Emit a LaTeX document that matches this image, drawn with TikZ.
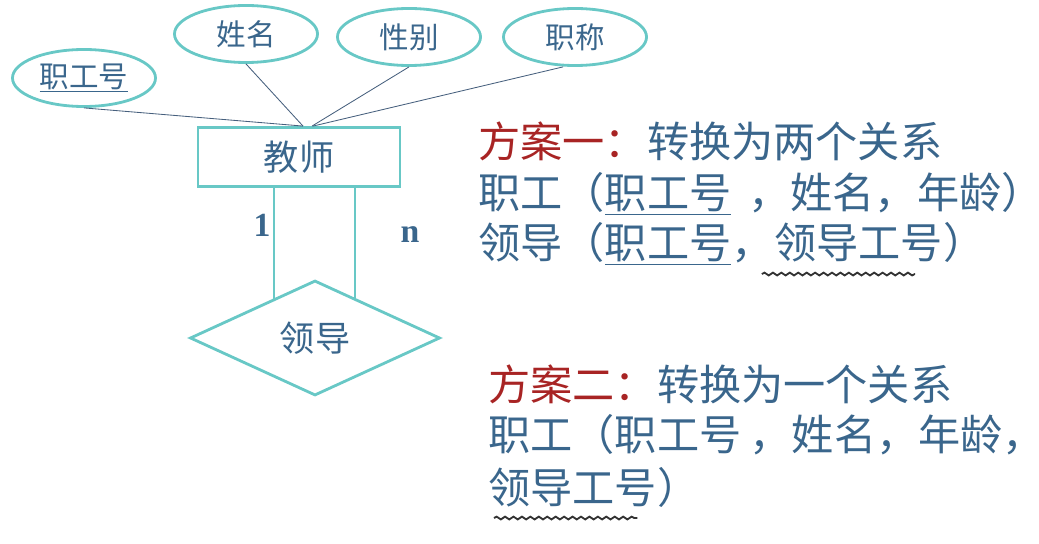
\documentclass[tikz,border=0pt]{standalone}
\usepackage{fontspec}
\setmainfont{Noto Sans CJK SC}
\newfontfamily\numfont{Liberation Serif}
\usetikzlibrary{shapes.geometric}
\usetikzlibrary{decorations.pathmorphing}
\usetikzlibrary{positioning}
\definecolor{tealline}{RGB}{104,200,198}
\definecolor{textblue}{RGB}{58,102,140}
\definecolor{darkred}{RGB}{168,36,36}
\definecolor{linkgray}{RGB}{70,95,125}

\begin{document}
\begin{tikzpicture}[x=0.025cm,y=-0.025cm]
\useasboundingbox (0,0) rectangle (1039,544);
\begin{scope}[every node/.style={ellipse,draw=tealline,line width=2pt,text=textblue,inner sep=0pt,
              minimum width=3.575cm,minimum height=1.425cm,font=\fontsize{21}{24}\selectfont}]
    \node (gh) at (84,78) {\underline{职工号}};
    \node (xm) at (246,34) {姓名};
    \node (xb) at (409,37) {性别};
    \node (zc) at (575,37) {职称};
\end{scope}
\begin{scope}[every node/.style={draw=tealline,line width=2pt,text=textblue,inner sep=0pt,
              font=\fontsize{25}{28}\selectfont}]
    \node [rectangle,minimum width=5.05cm,minimum height=1.475cm] (teacher) at (299,157) {教师};
    \node [diamond,aspect=2.17,minimum width=6.25cm,minimum height=2.875cm] (lead) at (315,338) {领导};
\end{scope}
\begin{scope}[attr_edge/.style={draw=linkgray,line width=0.6pt},
              rel_edge/.style={draw=tealline,line width=2pt}]
    \draw [attr_edge] (gh.south) -- ([xshift=0.1cm]teacher.north);
    \draw [attr_edge] (xm.south) -- ([xshift=0.1cm]teacher.north);
    \draw [attr_edge] (xb.south) -- ([xshift=0.325cm]teacher.north);
    \draw [attr_edge] ([xshift=-0.3cm]zc.south) -- ([xshift=0.35cm]teacher.north);
    \coordinate (e1) at (274,300);
    \coordinate (e2) at (355,299);
    \draw [rel_edge] (teacher.south -| e1) -- (e1);
    \draw [rel_edge] (teacher.south -| e2) -- (e2);
\end{scope}
\begin{scope}[every node/.style={text=textblue,font=\numfont\bfseries\fontsize{24}{28}\selectfont}]
    \node (one) at (262,225) {1};
    \node (many) at (410,235) {n};
\end{scope}
\begin{scope}[every node/.style={anchor=base west,inner sep=0pt,text=textblue,
              font=\fontsize{30}{36}\selectfont},
              wavy/.style={draw=black!80,line width=1.3pt,decorate,
              decoration={snake,amplitude=1pt,segment length=6pt}}]
    \node (plan1) at (478,158) {\textcolor{darkred}{方案一：}转换为两个关系};
    \node (rel1a) at (478,209) {职工（\underline{职工号}\hspace{0.4em}，姓名，年龄）};
    \node (rel1b) at (478,259) {领导（\underline{职工号}，};
    \node (rel1c) at (rel1b.base east) {领导工号};
    \node (rel1d) at (rel1c.base east) {）};
    \draw [wavy] ([yshift=-0.28cm,xshift=-0.3cm]rel1c.south west) -- ([yshift=-0.28cm,xshift=-0.7cm]rel1c.south east);
    \node (plan2) at (488,400) {\textcolor{darkred}{方案二：}转换为一个关系};
    \node (rel2a) at (488,450) {职工（职工号\hspace{0.2em}，姓名，年龄，};
    \node (rel2b) at (488,503) {领导工号};
    \node (rel2c) at (rel2b.base east) {）};
    \draw [wavy] ([yshift=-0.28cm,xshift=0.15cm]rel2b.south west) -- ([yshift=-0.28cm,xshift=-0.5cm]rel2b.south east);
\end{scope}
\end{tikzpicture}
\end{document}
